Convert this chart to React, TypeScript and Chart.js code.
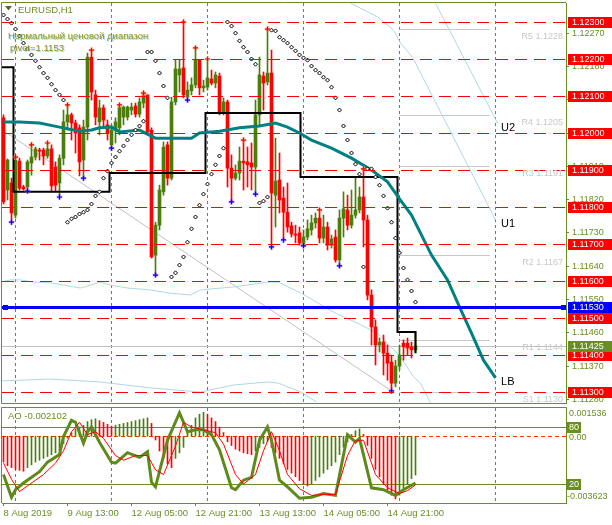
import React, { useEffect, useRef } from 'react';
import { Chart, registerables } from 'chart.js';

Chart.register(...registerables);

const FONT = '"Liberation Sans", Arial, sans-serif';
const OLIVE = '#6b8e23';
const BULL = '#4c7c0c';
const BEAR = '#ff0000';
const LIGHTBLUE = '#add8e6';

// ---------------- price data (H1 bars, index 0 = 8 Aug 21:00) ----------------
const opens = [
  1.12041, 1.11846, 1.11865, 1.11778, 1.11924, 1.11854, 1.11854, 1.11919, 1.11935, 1.11954,
  1.11954, 1.11938, 1.11957, 1.11908, 1.11865, 1.11932, 1.12030, 1.12049, 1.12027, 1.12014,
  1.11927, 1.12016, 1.12205, 1.12103, 1.12030, 1.12068, 1.12022, 1.11968, 1.12008, 1.12014,
  1.12043, 1.12043, 1.12062, 1.12073, 1.12051, 1.12081, 1.12103, 1.12008, 1.11670, 1.11751,
  1.11841, 1.11968, 1.11878, 1.12084, 1.12157, 1.12176, 1.12097, 1.12114, 1.12130, 1.12197,
  1.12122, 1.12124, 1.12146, 1.12135, 1.12154, 1.12054, 1.12084, 1.11905, 1.11878, 1.11892,
  1.11924, 1.11922, 1.11919, 1.11908, 1.12049, 1.12154, 1.12138, 1.12162, 1.11832, 1.11873,
  1.11824, 1.11786, 1.11749, 1.11727, 1.11730, 1.11697, 1.11719, 1.11738, 1.11757, 1.11770,
  1.11716, 1.11746, 1.11697, 1.11719, 1.11657, 1.11770, 1.11792, 1.11751, 1.11778, 1.11792,
  1.11827, 1.11765, 1.11562, 1.11476, 1.11427, 1.11435, 1.11405, 1.11381, 1.11324, 1.11370,
  1.11432, 1.11432, 1.11422, 1.11414,
];
const highs = [
  1.12049, 1.11930, 1.11878, 1.11935, 1.11932, 1.11859, 1.11927, 1.11968, 1.11962, 1.11959,
  1.11959, 1.11973, 1.11968, 1.11922, 1.11941, 1.12062, 1.12076, 1.12054, 1.12035, 1.12022,
  1.12035, 1.12216, 1.12224, 1.12116, 1.12089, 1.12076, 1.12035, 1.12022, 1.12041, 1.12076,
  1.12073, 1.12073, 1.12081, 1.12081, 1.12095, 1.12108, 1.12103, 1.12014, 1.11759, 1.11859,
  1.11976, 1.11976, 1.12097, 1.12197, 1.12197, 1.12300, 1.12138, 1.12149, 1.12230, 1.12197,
  1.12143, 1.12200, 1.12170, 1.12165, 1.12162, 1.12095, 1.12089, 1.11941, 1.11914, 1.11962,
  1.11981, 1.11962, 1.11973, 1.12089, 1.12205, 1.12165, 1.12281, 1.12224, 1.11986, 1.11946,
  1.11854, 1.11865, 1.11759, 1.11751, 1.11746, 1.11738, 1.11765, 1.11778, 1.11784, 1.11792,
  1.11778, 1.11759, 1.11724, 1.11738, 1.11792, 1.11841, 1.11832, 1.11846, 1.11881, 1.11854,
  1.11903, 1.11778, 1.11576, 1.11495, 1.11446, 1.11454, 1.11427, 1.11400, 1.11386, 1.11427,
  1.11441, 1.11446, 1.11435, 1.11462,
];
const lows = [
  1.11808, 1.11819, 1.11759, 1.11770, 1.11846, 1.11846, 1.11843, 1.11886, 1.11927, 1.11927,
  1.11914, 1.11932, 1.11841, 1.11841, 1.11827, 1.11914, 1.12008, 1.11981, 1.11946, 1.11884,
  1.11878, 1.11981, 1.12089, 1.12022, 1.11995, 1.12014, 1.11981, 1.11959, 1.11973, 1.11995,
  1.12022, 1.12035, 1.12049, 1.12043, 1.12043, 1.12068, 1.11995, 1.11662, 1.11616, 1.11738,
  1.11832, 1.11859, 1.11873, 1.12076, 1.12111, 1.12095, 1.12089, 1.12103, 1.12122, 1.12103,
  1.12111, 1.12116, 1.12130, 1.12122, 1.12049, 1.12049, 1.11854, 1.11814, 1.11873, 1.11873,
  1.11846, 1.11854, 1.11846, 1.11835, 1.12022, 1.12062, 1.12130, 1.11692, 1.11746, 1.11784,
  1.11711, 1.11732, 1.11719, 1.11703, 1.11697, 1.11695, 1.11711, 1.11724, 1.11743, 1.11703,
  1.11703, 1.11684, 1.11689, 1.11651, 1.11641, 1.11719, 1.11738, 1.11743, 1.11770, 1.11784,
  1.11692, 1.11549, 1.11427, 1.11373, 1.11408, 1.11346, 1.11332, 1.11303, 1.11314, 1.11359,
  1.11386, 1.11400, 1.11392, 1.11408,
];
const closes = [
  1.11814, 1.11927, 1.11784, 1.11927, 1.11851, 1.11849, 1.11922, 1.11935, 1.11957, 1.11951,
  1.11938, 1.11957, 1.11857, 1.11859, 1.11932, 1.12030, 1.12049, 1.12027, 1.12000, 1.11922,
  1.12016, 1.12205, 1.12111, 1.12043, 1.12068, 1.12035, 1.12000, 1.12008, 1.12030, 1.12070,
  1.12070, 1.12070, 1.12070, 1.12051, 1.12084, 1.12103, 1.12003, 1.11665, 1.11751, 1.11846,
  1.11962, 1.11878, 1.12084, 1.12173, 1.12173, 1.12103, 1.12116, 1.12130, 1.12197, 1.12122,
  1.12127, 1.12149, 1.12135, 1.12157, 1.12054, 1.12084, 1.11905, 1.11878, 1.11892, 1.11924,
  1.11919, 1.11914, 1.11908, 1.12049, 1.12157, 1.12135, 1.12162, 1.11838, 1.11870, 1.11819,
  1.11786, 1.11746, 1.11727, 1.11724, 1.11703, 1.11719, 1.11741, 1.11757, 1.11770, 1.11716,
  1.11746, 1.11697, 1.11714, 1.11657, 1.11770, 1.11795, 1.11751, 1.11778, 1.11792, 1.11827,
  1.11765, 1.11562, 1.11476, 1.11427, 1.11435, 1.11405, 1.11378, 1.11324, 1.11370, 1.11400,
  1.11422, 1.11419, 1.11414, 1.11425,
];

// Parabolic SAR, one value per bar
const sarValues = [
  1.12319, 1.12308, 1.12297, 1.12281, 1.12262, 1.12243, 1.12227, 1.12211, 1.12195, 1.12178,
  1.12162, 1.12149, 1.12132, 1.12116, 1.12103, 1.12089, 1.11759, 1.11768, 1.11773, 1.11781,
  1.11786, 1.11792, 1.11808, 1.11830, 1.11841, 1.11878, 1.11897, 1.11919, 1.11935, 1.11951,
  1.11965, 1.11981, 1.11995, 1.12008, 1.12019, 1.12032, 1.12219, 1.12219, 1.12195, 1.12162,
  1.12127, 1.12095, 1.11611, 1.11622, 1.11643, 1.11665, 1.11705, 1.11741, 1.11773, 1.11805,
  1.11835, 1.11862, 1.11889, 1.11914, 1.11938, 1.11959, 1.12300, 1.12289, 1.12270, 1.12249,
  1.12232, 1.12219, 1.12200, 1.12186, 1.11811, 1.11816, 1.11827, 1.12278, 1.12276, 1.12259,
  1.12251, 1.12243, 1.12232, 1.12222, 1.12211, 1.12203, 1.12197, 1.12181, 1.12170, 1.12162,
  1.12151, 1.12143, 1.12124, 1.12095, 1.12062, 1.12019, 1.11981, 1.11946, 1.11916, 1.11889,
  1.11638, 1.11903, 1.11903, 1.11881, 1.11859, 1.11830, 1.11797, 1.11759, 1.11716, 1.11676,
  1.11635, 1.11603, 1.11573, 1.11543,
];

// Fractal bars
const upFractals = [3, 7, 11, 16, 22, 29, 35, 45, 48, 51, 60, 66, 79, 90];
const downFractals = [2, 6, 14, 20, 27, 38, 46, 57, 63, 67, 70, 75, 84, 97];

// Moving average with forward projection to LB  [bar, price]
const maLine = [
  [0, 1.12030], [4, 1.12030], [9, 1.12027], [14, 1.12016], [19, 1.12005], [22, 1.12008],
  [24, 1.12014], [27, 1.12016], [29, 1.12003], [34, 1.12008], [38, 1.11986], [44, 1.11986],
  [47, 1.11986], [49, 1.12000], [54, 1.12005], [59, 1.12014], [64, 1.12019], [68, 1.12027],
  [71, 1.12016], [74, 1.12000], [77, 1.11981], [82, 1.11959], [87, 1.11932], [92, 1.11900],
  [96, 1.11868], [99, 1.11822], [102, 1.11778], [107, 1.11670], [111, 1.11603], [114, 1.11530],
  [117, 1.11459], [120, 1.11386], [123, 1.11338],
];
// Light-blue channel lines [bar, price]
const lineToU1 = [
  [86.75, 1.12351], [93.5, 1.12314], [97.5, 1.12278], [99.25, 1.12243], [102.25, 1.12205],
  [115, 1.11935], [123, 1.11765],
];
const lineToU2 = [[108, 1.12351], [123.5, 1.12027]];
const channelUpper = [
  [-0.75, 1.11597], [1.75, 1.11603], [4.25, 1.11603], [7.5, 1.11597], [11.75, 1.11595],
  [19.25, 1.11581], [24.25, 1.11597], [26.75, 1.11589], [31, 1.11581], [36.75, 1.11576],
  [41, 1.11568], [46.75, 1.11562], [49.25, 1.11576], [57.5, 1.11584], [66, 1.11597],
  [68.75, 1.11597], [74.25, 1.11568], [82.5, 1.11516], [88.5, 1.11486], [93.5, 1.11459],
  [96, 1.11432], [99.25, 1.11395], [102.5, 1.11341], [104.25, 1.11324], [106.75, 1.11270],
];
const channelLower = [
  [-0.75, 1.11330], [11.75, 1.11335], [24.25, 1.11327], [36.75, 1.11311], [49.25, 1.11300],
  [57.5, 1.11319], [66, 1.11327], [68.75, 1.11324], [74.25, 1.11300], [78.25, 1.11273],
];
const grayDiagonal = [[-0.25, 1.12008], [97, 1.11303]];
// Previous-day range step line [bar, price]
const rangeStep = [
  [-0.5, 1.12178], [2.5, 1.12178], [2.5, 1.11841], [26.5, 1.11841], [26.5, 1.11892],
  [50.5, 1.11892], [50.5, 1.12054], [74.25, 1.12054], [74.25, 1.11881], [98.5, 1.11881],
  [98.5, 1.11462], [103, 1.11462], [103, 1.11405],
];

const redLevels = [1.1230, 1.1220, 1.1210, 1.1200, 1.1190, 1.1180, 1.1170, 1.1160, 1.1150, 1.1140, 1.1130];
const pivotLevel = 1.11530;
const bidPrice = 1.11425;
const pivotNames = ['R5', 'R4', 'R3', 'R2', 'R1', 'S1'];
const pivotValues = [1.1228, 1.1205, 1.1191, 1.1167, 1.1144, 1.1130];
const pivotFrom = 99;
const pivotTo = 121.6;
const priceTicks = [1.1128, 1.1137, 1.1146, 1.1155, 1.1164, 1.1173, 1.1182, 1.1191, 1.1200, 1.1209, 1.1218, 1.1227];
const daySeparators = [3, 27, 51, 75, 99, 123];
const dateTicks = [0, 16, 32, 48, 64, 80, 96];
const dateLabels = ['8 Aug 2019', '9 Aug 13:00', '12 Aug 05:00', '12 Aug 21:00', '13 Aug 13:00', '14 Aug 05:00', '14 Aug 21:00'];

// ---------------- oscillator data ----------------
const aoValues = [
  -0.0014, -0.0016, -0.0017, -0.0018, -0.00185, -0.0019,
  -0.0017, -0.00155, -0.0014, -0.0013, -0.0012, -0.0011, -0.0010, -0.0009, -0.0008,
  -0.0004, -0.0001, 0.0002, 0.0004, 0.0005, 0.0006, 0.0008, 0.0009, 0.00095,
  0.00085, 0.00075, 0.00065, 0.00055,
  0.0006, 0.00065, 0.0007, 0.00075, 0.0008, 0.00085, 0.0009, 0.00095, 0.0010,
  0.0007,
  -0.0002, -0.0008, -0.0012, -0.0015, -0.0017,
  -0.0012, -0.0009, -0.0006,
  0.0002, 0.0006, 0.0010, 0.0012, 0.0013, 0.0012, 0.0010, 0.0008, 0.0005, 0.0002,
  -0.0003, -0.0005, -0.0007, -0.0008, -0.0009, -0.00095, -0.0010,
  -0.0008, -0.0006, -0.0004, -0.0003,
  -0.0006, -0.0009, -0.0012, -0.0015, -0.0018, -0.0020, -0.0022, -0.0024, -0.0026, -0.0027,
  -0.0026, -0.0024, -0.0022, -0.0020, -0.0018, -0.0016, -0.0014,
  -0.0010, -0.0006, -0.0003, 0.0001, 0.0003, 0.0004,
  0.0001, -0.0005, -0.0012, -0.0018, -0.0022, -0.0026, -0.0029, -0.0032, -0.0034,
  -0.0032, -0.0029, -0.0026, -0.0023, -0.002102,
];
const aoMax = 0.001536;
const aoMin = -0.003623;
const stochMain = [
  [0, 30], [2, 6], [3, 14], [5, 21], [9, 33], [11, 43], [14, 51], [15, 70], [17, 87], [18, 85],
  [20, 63], [21, 75], [22, 80], [24, 64], [27, 43], [28, 42], [31, 53], [34, 48], [36, 54],
  [37, 22], [38, 17], [41, 66], [44, 95], [46, 75], [48, 77], [50, 77], [52, 72], [54, 56],
  [57, 16], [58, 14], [60, 24], [62, 27], [64, 66], [66, 80], [67, 66], [69, 24], [71, 17],
  [74, 5], [77, 6], [80, 10], [83, 8], [86, 72], [88, 64], [89, 68], [92, 16], [95, 14],
  [98, 8], [100, 14], [103, 21],
];
const stochSignal = [
  [0, 42], [2, 25], [4, 12], [6, 18], [10, 30], [13, 42], [15, 55], [17, 75], [19, 85], [21, 72],
  [23, 75], [25, 68], [28, 50], [30, 45], [33, 50], [36, 50], [38, 35], [40, 30], [43, 60],
  [45, 85], [47, 80], [50, 77], [53, 74], [55, 62], [58, 30], [60, 20], [63, 30], [65, 55],
  [67, 75], [69, 55], [71, 30], [74, 15], [77, 8], [80, 9], [83, 9], [86, 50], [88, 66],
  [90, 66], [93, 30], [96, 16], [99, 10], [101, 13], [103, 19],
];
const stochLevels = [80, 20];

// ---------------- scale bounds ----------------
const xMin = -0.375;
const xMax = 140.625;
const priceMin = 1.112703;
const priceMax = 1.123514;

const lineSet = (pts: number[][], color: string, width: number, order: number, yAxisID = 'y') => ({
  type: 'line' as const,
  data: pts.map((p) => ({ x: p[0], y: p[1] })),
  borderColor: color,
  borderWidth: width,
  pointRadius: 0,
  tension: 0,
  fill: false,
  order,
  yAxisID,
});

function crisp(v: number) {
  return Math.round(v) + 0.5;
}

const mainPlugin = {
  id: 'mainOverlay',
  beforeDatasetsDraw(chart: any) {
    const { ctx, chartArea: a, scales } = chart;
    const x = scales.x;
    const y = scales.y;
    ctx.save();
    ctx.beginPath();
    ctx.rect(a.left, a.top, a.right - a.left, a.bottom - a.top);
    ctx.clip();
    ctx.lineWidth = 1;
    ctx.strokeStyle = OLIVE;
    ctx.setLineDash([3, 3]);
    daySeparators.forEach((i) => {
      const xx = crisp(x.getPixelForValue(i) - 0.5);
      ctx.beginPath();
      ctx.moveTo(xx, a.top);
      ctx.lineTo(xx, a.bottom);
      ctx.stroke();
    });
    ctx.setLineDash([]);
    ctx.strokeStyle = '#c8c8c8';
    pivotValues.forEach((v) => {
      const yy = crisp(y.getPixelForValue(v));
      ctx.beginPath();
      ctx.moveTo(x.getPixelForValue(pivotFrom), yy);
      ctx.lineTo(x.getPixelForValue(pivotTo), yy);
      ctx.stroke();
    });
    const byy = crisp(y.getPixelForValue(bidPrice));
    ctx.strokeStyle = '#c0c0c0';
    ctx.beginPath();
    ctx.moveTo(a.left, byy);
    ctx.lineTo(a.right, byy);
    ctx.stroke();
    ctx.restore();
  },
  afterDatasetsDraw(chart: any) {
    const { ctx, chartArea: a, scales } = chart;
    const x = scales.x;
    const y = scales.y;
    ctx.save();
    ctx.beginPath();
    ctx.rect(a.left, a.top, a.right - a.left, a.bottom - a.top);
    ctx.clip();
    // red dashed levels
    ctx.strokeStyle = '#ff0000';
    ctx.lineWidth = 1;
    ctx.setLineDash([12, 7]);
    redLevels.forEach((v) => {
      const yy = crisp(y.getPixelForValue(v));
      ctx.beginPath();
      ctx.moveTo(a.left, yy);
      ctx.lineTo(a.right, yy);
      ctx.stroke();
    });
    ctx.setLineDash([]);
    // blue pivot line
    const by = Math.round(y.getPixelForValue(pivotLevel));
    ctx.fillStyle = '#0000ff';
    ctx.fillRect(a.left, by - 1, a.right - a.left, 3);
    ctx.fillRect(a.left + 1, by - 2, 5, 5);
    ctx.fillRect(a.right - 5, by - 2, 5, 5);

    // pivot labels
    ctx.font = `9px ${FONT}`;
    ctx.fillStyle = '#c8c8c8';
    ctx.textAlign = 'right';
    ctx.textBaseline = 'top';
    pivotValues.forEach((v, k) => {
      const yy = y.getPixelForValue(v);
      ctx.fillText(`${pivotNames[k]} ${v.toFixed(4)}`, a.right - 3, yy + 3);
    });

    // end labels
    ctx.font = `11px ${FONT}`;
    ctx.fillStyle = '#000';
    ctx.textAlign = 'left';
    ctx.textBaseline = 'top';
    const endLabel = (pts: number[][], text: string) => {
      const p = pts[pts.length - 1];
      ctx.fillText(text, x.getPixelForValue(124.4), y.getPixelForValue(p[1]) - 1);
    };
    endLabel(lineToU2, 'U2');
    endLabel(lineToU1, 'U1');
    endLabel(maLine, 'LB');

    // header texts
    ctx.fillStyle = '#556b2f';
    ctx.beginPath();
    ctx.moveTo(5, 6);
    ctx.lineTo(12, 6);
    ctx.lineTo(8.5, 10.5);
    ctx.closePath();
    ctx.fill();
    ctx.font = `9.5px ${FONT}`;
    ctx.textBaseline = 'middle';
    ctx.fillStyle = OLIVE;
    ctx.fillText('EURUSD,H1', 18, 10);
    const shadowText = (t: string, tx: number, ty: number) => {
      ctx.fillStyle = '#a8d8e8';
      ctx.fillText(t, tx + 1, ty + 1);
      ctx.fillStyle = '#8f8f2a';
      ctx.fillText(t, tx, ty);
    };
    shadowText('Нормальный ценовой диапазон', 8, 36);
    shadowText(`pivot=${pivotLevel.toFixed(4)}`, 10, 48);
    ctx.restore();

    // frame
    ctx.save();
    ctx.strokeStyle = OLIVE;
    ctx.lineWidth = 1;
    ctx.beginPath();
    ctx.moveTo(a.left - 0.5, a.top - 0.5);
    ctx.lineTo(a.right, a.top - 0.5);
    ctx.moveTo(a.left - 0.5, a.top - 0.5);
    ctx.lineTo(a.left - 0.5, a.bottom + 0.5);
    ctx.lineTo(a.right, a.bottom + 0.5);
    ctx.stroke();
    ctx.restore();
  },
  afterDraw(chart: any) {
    const { ctx, chartArea: a, scales } = chart;
    const y = scales.y;
    ctx.save();
    ctx.font = `9px ${FONT}`;
    ctx.textAlign = 'left';
    ctx.textBaseline = 'middle';
    const box = (v: number, bg: string) => {
      const yy = Math.round(y.getPixelForValue(v));
      ctx.fillStyle = bg;
      ctx.fillRect(a.right + 2, yy - 5, 46, 11);
      ctx.fillStyle = '#fff';
      ctx.fillText(v.toFixed(5), a.right + 6, yy + 0.5);
    };
    redLevels.forEach((v) => box(v, '#ff0000'));
    box(pivotLevel, '#0000ff');
    box(bidPrice, OLIVE);
    ctx.restore();
  },
};

const subPlugin = {
  id: 'subOverlay',
  beforeDatasetsDraw(chart: any) {
    const { ctx, chartArea: a, scales } = chart;
    const x = scales.x;
    const st = scales.st;
    const ao = scales.ao;
    ctx.save();
    ctx.lineWidth = 1;
    ctx.strokeStyle = OLIVE;
    ctx.setLineDash([3, 3]);
    daySeparators.forEach((i) => {
      const xx = crisp(x.getPixelForValue(i) - 0.5);
      ctx.beginPath();
      ctx.moveTo(xx, a.top);
      ctx.lineTo(xx, a.bottom);
      ctx.stroke();
    });
    ctx.setLineDash([]);
    stochLevels.forEach((v) => {
      const yy = crisp(st.getPixelForValue(v));
      ctx.beginPath();
      ctx.moveTo(a.left, yy);
      ctx.lineTo(a.right, yy);
      ctx.stroke();
    });
    ctx.strokeStyle = '#ff3300';
    ctx.setLineDash([4, 3]);
    const zy = crisp(ao.getPixelForValue(0));
    ctx.beginPath();
    ctx.moveTo(a.left, zy);
    ctx.lineTo(a.right, zy);
    ctx.stroke();
    ctx.restore();
  },
  afterDatasetsDraw(chart: any) {
    const { ctx, chartArea: a } = chart;
    ctx.save();
    ctx.font = `9.5px ${FONT}`;
    ctx.fillStyle = OLIVE;
    ctx.textBaseline = 'middle';
    ctx.fillText(`AO ${aoValues[aoValues.length - 1].toFixed(6)}`, 8, a.top + 8);
    ctx.strokeStyle = OLIVE;
    ctx.lineWidth = 1;
    ctx.beginPath();
    ctx.moveTo(a.left - 0.5, a.bottom);
    ctx.lineTo(a.left - 0.5, a.top - 0.5);
    ctx.lineTo(a.right + 0.5, a.top - 0.5);
    ctx.lineTo(a.right + 0.5, a.bottom);
    ctx.stroke();
    ctx.restore();
  },
  afterDraw(chart: any) {
    const { ctx, chartArea: a, scales } = chart;
    const st = scales.st;
    const ao = scales.ao;
    ctx.save();
    ctx.font = `9px ${FONT}`;
    ctx.textBaseline = 'middle';
    ctx.textAlign = 'left';
    ctx.fillStyle = OLIVE;
    ctx.fillText(aoMax.toFixed(6), a.right + 3, a.top + 6);
    ctx.fillText('0.00', a.right + 3, ao.getPixelForValue(0) + 1);
    ctx.fillText(aoMin.toFixed(6), a.right + 1, a.bottom - 6);
    stochLevels.forEach((v) => {
      const yy = Math.round(st.getPixelForValue(v));
      ctx.fillStyle = OLIVE;
      ctx.fillRect(a.right + 1, yy - 5, 14, 11);
      ctx.fillStyle = '#fff';
      ctx.fillText(String(v), a.right + 3, yy + 0.5);
    });
    ctx.restore();
  },
};

function buildMain(canvas: HTMLCanvasElement) {
  const colors = opens.map((o, i) => (closes[i] >= o ? BULL : BEAR));
  const wicks = opens.map((_, i) => ({ x: i, y: [lows[i], highs[i]] }));
  const bodies = opens.map((o, i) => ({ x: i, y: [Math.min(o, closes[i]), Math.max(o, closes[i])] }));
  const sar = sarValues.map((v, i) => ({ x: i, y: v }));
  const upPts = upFractals.map((i) => ({ x: i, y: highs[i] }));
  const dnPts = downFractals.map((i) => ({ x: i, y: lows[i] }));
  return new Chart(canvas, {
    type: 'bar',
    data: {
      datasets: [
        lineSet(grayDiagonal, '#c0c0c0', 1, 20),
        lineSet(channelUpper, LIGHTBLUE, 1, 19),
        lineSet(channelLower, LIGHTBLUE, 1, 19),
        lineSet(lineToU1, LIGHTBLUE, 1, 19),
        lineSet(lineToU2, LIGHTBLUE, 1, 19),
        {
          type: 'bar',
          data: wicks,
          backgroundColor: colors,
          barThickness: 1,
          grouped: false,
          minBarLength: 1,
          borderWidth: 0,
          order: 12,
        },
        {
          type: 'bar',
          data: bodies,
          backgroundColor: colors,
          barThickness: 3,
          grouped: false,
          minBarLength: 1,
          borderWidth: 0,
          order: 11,
        },
        lineSet(rangeStep, '#000000', 2, 8),
        lineSet(maLine, '#008080', 3, 6),
        {
          type: 'scatter',
          data: sar,
          pointStyle: 'rectRot',
          pointRadius: 2,
          borderWidth: 1,
          borderColor: '#000',
          backgroundColor: '#fff',
          order: 4,
        },
        {
          type: 'scatter',
          data: upPts,
          pointStyle: 'cross',
          pointRadius: 3,
          borderWidth: 2.5,
          borderColor: 'rgba(255,160,120,0.6)',
          order: 3,
        },
        {
          type: 'scatter',
          data: upPts,
          pointStyle: 'cross',
          pointRadius: 2.5,
          borderWidth: 1.2,
          borderColor: '#ff0000',
          order: 2,
        },
        {
          type: 'scatter',
          data: dnPts,
          pointStyle: 'cross',
          pointRadius: 3,
          borderWidth: 2.5,
          borderColor: 'rgba(170,120,255,0.6)',
          order: 3,
        },
        {
          type: 'scatter',
          data: dnPts,
          pointStyle: 'cross',
          pointRadius: 2.5,
          borderWidth: 1.2,
          borderColor: '#0000ff',
          order: 2,
        },
      ] as any,
    },
    options: {
      animation: false,
      responsive: false,
      events: [],
      layout: { autoPadding: false, padding: { left: 2, top: 3, right: 0, bottom: 2 } },
      plugins: { legend: { display: false }, tooltip: { enabled: false } },
      scales: {
        x: { type: 'linear', min: xMin, max: xMax, display: false, offset: false, grid: { offset: false } },
        y: {
          type: 'linear',
          position: 'right',
          min: priceMin,
          max: priceMax,
          beginAtZero: false,
          afterBuildTicks: (s: any) => {
            s.ticks = priceTicks.map((v) => ({ value: v }));
          },
          afterFit: (s: any) => {
            s.width = 46;
            s.paddingTop = 0;
            s.paddingBottom = 0;
          },
          grid: { drawOnChartArea: false, color: OLIVE, tickLength: 3 },
          border: { display: true, color: OLIVE },
          ticks: {
            color: OLIVE,
            font: { family: FONT, size: 9 },
            padding: 3,
            autoSkip: false,
            callback: (v: any) => Number(v).toFixed(5),
          },
        },
      } as any,
    },
    plugins: [mainPlugin],
  } as any);
}

function buildSub(canvas: HTMLCanvasElement) {
  const aoColors = aoValues.map((v, i) => (i > 0 && v > aoValues[i - 1] ? BULL : BEAR));
  return new Chart(canvas, {
    type: 'bar',
    data: {
      datasets: [
        {
          type: 'bar',
          data: aoValues.map((v, i) => ({ x: i, y: v })),
          backgroundColor: aoColors,
          barThickness: 1,
          grouped: false,
          borderWidth: 0,
          yAxisID: 'ao',
          order: 5,
        },
        lineSet(stochMain, '#5f8a1a', 3, 3, 'st'),
        lineSet(stochSignal, '#ff0000', 1, 2, 'st'),
      ] as any,
    },
    options: {
      animation: false,
      responsive: false,
      events: [],
      layout: { autoPadding: false, padding: { left: 2, top: 3, right: 46, bottom: 0 } },
      plugins: { legend: { display: false }, tooltip: { enabled: false } },
      scales: {
        x: {
          type: 'linear',
          position: 'bottom',
          min: xMin,
          max: xMax,
          offset: false,
          afterBuildTicks: (s: any) => {
            s.ticks = dateTicks.map((v) => ({ value: v }));
          },
          afterFit: (s: any) => {
            s.height = 22;
            s.paddingLeft = 0;
            s.paddingRight = 0;
          },
          grid: { drawOnChartArea: false, color: OLIVE, tickLength: 3, offset: false },
          border: { display: true, color: OLIVE },
          ticks: {
            color: OLIVE,
            font: { family: FONT, size: 9.5 },
            padding: 2,
            align: 'start',
            maxRotation: 0,
            autoSkip: false,
            callback: (_v: any, idx: number) => dateLabels[idx],
          },
        },
        ao: { type: 'linear', display: false, min: aoMin, max: aoMax, beginAtZero: false },
        st: { type: 'linear', display: false, min: 0, max: 100 },
      } as any,
    },
    plugins: [subPlugin],
  } as any);
}

export default function App() {
  const mainRef = useRef<HTMLCanvasElement>(null);
  const subRef = useRef<HTMLCanvasElement>(null);
  useEffect(() => {
    document.body.style.margin = '0';
    const m = buildMain(mainRef.current as HTMLCanvasElement);
    const s = buildSub(subRef.current as HTMLCanvasElement);
    return () => {
      m.destroy();
      s.destroy();
    };
  }, []);
  return (
    <div style={{ position: 'absolute', left: 0, top: 0, width: 612, height: 525, background: '#fff' }}>
      <canvas ref={mainRef} width={612} height={405} style={{ position: 'absolute', left: 0, top: 0 }} />
      <canvas ref={subRef} width={612} height={120} style={{ position: 'absolute', left: 0, top: 405 }} />
    </div>
  );
}
